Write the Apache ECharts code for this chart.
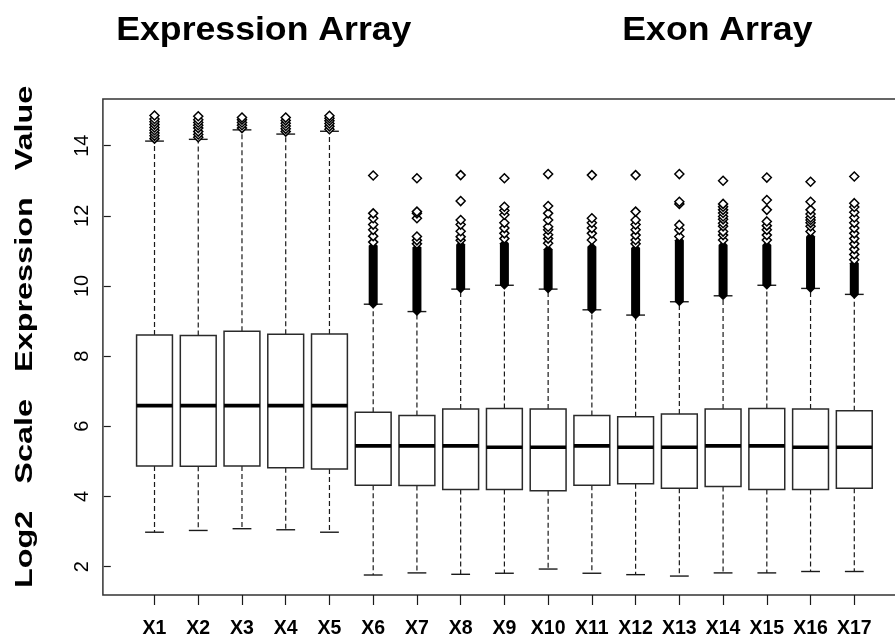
<!DOCTYPE html>
<html>
<head>
<meta charset="utf-8">
<script src="https://cdn.jsdelivr.net/npm/echarts@6/dist/echarts.min.js"></script>
<style>
html,body{margin:0;padding:0;background:#fff;}
#chart{width:895px;height:639px;}
</style>
</head>
<body>
<div id="chart"></div>
<script>
// ---- data ----
const categories = ['X1','X2','X3','X4','X5','X6','X7','X8','X9','X10','X11','X12','X13','X14','X15','X16','X17'];
const lowerWhisker = [2.98, 3.03, 3.08, 3.05, 2.98, 1.76, 1.82, 1.78, 1.81, 1.93, 1.81, 1.77, 1.73, 1.82, 1.82, 1.86, 1.86];
const q1           = [4.87, 4.86, 4.87, 4.82, 4.78, 4.32, 4.31, 4.20, 4.20, 4.16, 4.32, 4.36, 4.23, 4.28, 4.20, 4.20, 4.23];
const median       = [6.59, 6.59, 6.59, 6.59, 6.59, 5.44, 5.44, 5.44, 5.40, 5.40, 5.44, 5.40, 5.40, 5.44, 5.44, 5.40, 5.40];
const q3           = [8.60, 8.59, 8.71, 8.62, 8.63, 6.40, 6.31, 6.49, 6.51, 6.49, 6.31, 6.27, 6.35, 6.49, 6.51, 6.49, 6.44];
const upperWhisker = [14.13, 14.18, 14.45, 14.33, 14.41, 9.48, 9.27, 9.91, 10.02, 9.91, 9.32, 9.17, 9.55, 9.72, 10.02, 9.93, 9.76];
// top of the over-plotted (solid black) run of outliers just above each upper whisker
const denseOutlierTop = [null, null, null, null, null, 11.15, 11.10, 11.18, 11.22, 11.05, 11.12, 11.08, 11.30, 11.17, 11.17, 11.41, 10.65];
// individually visible outliers
const outliers = [
  [14.20, 14.28, 14.36, 14.44, 14.52, 14.60, 14.68, 14.76, 14.86],
  [14.24, 14.32, 14.40, 14.50, 14.58, 14.66, 14.74, 14.84],
  [14.50, 14.58, 14.66, 14.74, 14.80],
  [14.40, 14.48, 14.56, 14.64, 14.72, 14.80],
  [14.47, 14.55, 14.63, 14.71, 14.78, 14.85],
  [11.25, 11.42, 11.60, 11.75, 11.93, 12.07, 13.15],
  [11.20, 11.30, 11.41, 11.93, 12.07, 12.12, 13.07],
  [11.30, 11.40, 11.56, 11.75, 11.88, 12.42, 13.16],
  [11.35, 11.50, 11.65, 11.80, 12.03, 12.15, 12.26, 13.07],
  [11.22, 11.35, 11.46, 11.60, 11.69, 11.88, 12.07, 12.28, 13.19],
  [11.31, 11.50, 11.65, 11.80, 11.93, 13.16],
  [11.20, 11.31, 11.45, 11.60, 11.75, 11.88, 12.12, 13.16],
  [11.41, 11.60, 11.74, 12.34, 12.40, 13.19],
  [11.31, 11.45, 11.55, 11.70, 11.79, 11.90, 11.98, 12.08, 12.17, 12.26, 12.34, 13.00],
  [11.31, 11.45, 11.60, 11.72, 11.84, 12.17, 12.45, 13.09],
  [11.55, 11.70, 11.80, 11.88, 11.95, 12.05, 12.17, 12.40, 12.97],
  [10.75, 10.90, 11.05, 11.20, 11.35, 11.50, 11.65, 11.80, 11.95, 12.10, 12.25, 12.36, 13.12]
];
const yTickValues = [2, 4, 6, 8, 10, 12, 14];
const groupTitles = ['Expression Array', 'Exon Array'];
const groupTitleAnchors = [3.5, 13.87]; // x-axis positions the two group titles are centred on
const yAxisTitle = 'Log2   Scale   Expression   Value';

// ---- build ----
const xPositions = categories.map((c, i) => i + 1);
const boxData = categories.map((c, i) => [i + 1, lowerWhisker[i], q1[i], median[i], q3[i], upperWhisker[i]]);
const denseData = [];
categories.forEach((c, i) => { if (denseOutlierTop[i] != null) denseData.push([i + 1, upperWhisker[i], denseOutlierTop[i]]); });
const outlierData = [];
outliers.forEach((arr, i) => arr.forEach(v => outlierData.push([i + 1, v])));

const INK = '#1a1a1a';
const FONT = 'Liberation Sans, Arial, sans-serif';

function renderBox(params, api) {
  const x = api.value(0);
  const pLow = api.coord([x, api.value(1)]);
  const pQ1 = api.coord([x, api.value(2)]);
  const pMed = api.coord([x, api.value(3)]);
  const pQ3 = api.coord([x, api.value(4)]);
  const pHigh = api.coord([x, api.value(5)]);
  const bw = api.size([0.82, 0])[0];
  const cw = api.size([0.43, 0])[0];
  const cx = pQ1[0];
  const dash = { stroke: INK, lineWidth: 1.2, lineDash: [5, 3], fill: null };
  const solid = { stroke: INK, lineWidth: 1.4, fill: null };
  return {
    type: 'group',
    children: [
      { type: 'line', shape: { x1: cx, y1: pQ3[1], x2: cx, y2: pHigh[1] }, style: dash },
      { type: 'line', shape: { x1: cx, y1: pQ1[1], x2: cx, y2: pLow[1] }, style: dash },
      { type: 'line', shape: { x1: cx - cw / 2, y1: pHigh[1], x2: cx + cw / 2, y2: pHigh[1] }, style: solid },
      { type: 'line', shape: { x1: cx - cw / 2, y1: pLow[1], x2: cx + cw / 2, y2: pLow[1] }, style: solid },
      { type: 'rect', shape: { x: cx - bw / 2, y: pQ3[1], width: bw, height: pQ1[1] - pQ3[1] },
        style: { stroke: '#2a2a2a', lineWidth: 1.5, fill: '#fff' } },
      { type: 'line', shape: { x1: cx - bw / 2, y1: pMed[1], x2: cx + bw / 2, y2: pMed[1] },
        style: { stroke: '#000', lineWidth: 3.6 } }
    ]
  };
}

function renderDense(params, api) {
  const x = api.value(0);
  const pB = api.coord([x, api.value(1)]);
  const pT = api.coord([x, api.value(2)]);
  const h = 4.5;
  return {
    type: 'polygon',
    shape: { points: [[pB[0], pT[1] - h], [pB[0] + h, pT[1]], [pB[0] + h, pB[1]], [pB[0], pB[1] + h], [pB[0] - h, pB[1]], [pB[0] - h, pT[1]]] },
    style: { fill: '#000' }
  };
}

const chart = echarts.init(document.getElementById('chart'), null, { renderer: 'canvas' });

const option = {
  backgroundColor: '#fff',
  animation: false,
  grid: { left: 102.9, top: 99, width: 803, bottom: 44, outerBoundsMode: 'none', containLabel: false,
    show: true, borderColor: '#333', borderWidth: 1.5, backgroundColor: 'transparent' },
  xAxis: {
    type: 'value', min: -0.18, max: 18.18,
    axisLine: { show: false },
    splitLine: { show: false },
    axisTick: { show: true, customValues: xPositions, length: 10, lineStyle: { color: INK, width: 1.2 } },
    axisLabel: { customValues: xPositions, formatter: v => categories[Math.round(v) - 1] || '', margin: 24,
      fontFamily: FONT, fontWeight: 'bold', fontSize: 19.5, color: '#000' }
  },
  yAxis: {
    type: 'value', min: 1.19, max: 15.33,
    axisLine: { show: false },
    splitLine: { show: false },
    axisTick: { show: true, customValues: yTickValues, length: 7, lineStyle: { color: INK, width: 1.2 } },
    axisLabel: { customValues: yTickValues, rotate: 90, margin: 10,
      fontFamily: FONT, fontSize: 20, color: '#000' }
  },
  series: [
    { type: 'custom', name: 'box', renderItem: renderBox, data: boxData, encode: { x: 0, y: [1, 2, 3, 4, 5] }, z: 2 },
    { type: 'custom', name: 'dense', renderItem: renderDense, data: denseData, encode: { x: 0, y: [1, 2] }, z: 3 },
    { type: 'scatter', name: 'outliers', data: outlierData, symbol: 'diamond', symbolSize: [9, 9],
      itemStyle: { color: '#fff', borderColor: '#000', borderWidth: 1.5, opacity: 1 }, z: 4 }
  ]
};
chart.setOption(option);

// group titles centred via the x axis scale; y-axis title centred on the plot's value range
const titleY = 31;
const graphics = groupTitles.map((t, i) => {
  const px = chart.convertToPixel({ xAxisIndex: 0 }, groupTitleAnchors[i]);
  return {
    type: 'text', x: px, y: titleY, scaleX: 1.08, scaleY: 1,
    style: { text: t, textAlign: 'center', verticalAlign: 'middle',
      fontFamily: FONT, fontWeight: 'bold', fontSize: 33, fill: '#000' }
  };
});
const yMid = chart.convertToPixel({ yAxisIndex: 0 }, 8.55);
graphics.push({
  type: 'text', x: 25, y: yMid, rotation: Math.PI / 2, scaleX: 1.35, scaleY: 1,
  style: { text: yAxisTitle, textAlign: 'center', verticalAlign: 'middle',
    fontFamily: FONT, fontWeight: 'bold', fontSize: 24, fill: '#000' }
});
chart.setOption({ graphic: graphics });
</script>
</body>
</html>
